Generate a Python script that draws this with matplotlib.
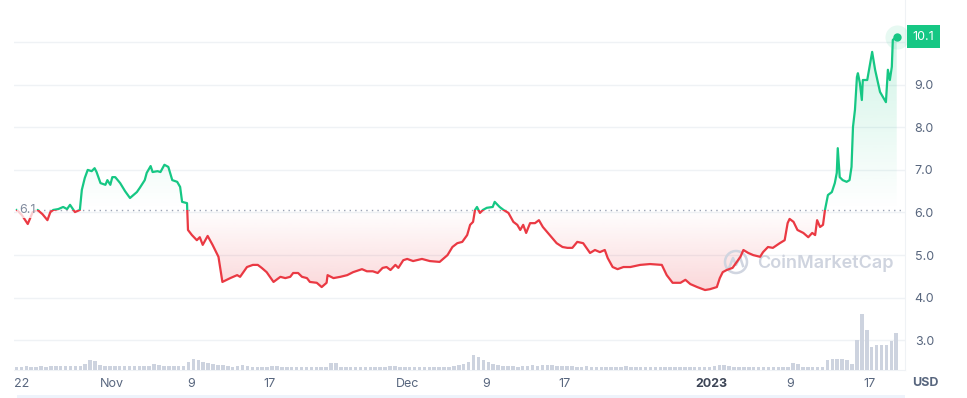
import numpy as np
import pandas as pd
import matplotlib
matplotlib.use('Agg')
import matplotlib.pyplot as plt
import matplotlib.dates as mdates
from matplotlib.patches import Rectangle, Ellipse
from matplotlib.path import Path
from matplotlib.colors import to_rgb

plt.rcParams['font.family'] = ['Inter', 'DejaVu Sans']

start = pd.Timestamp('2022-10-22')

# price samples: days after Oct 22 and price in USD
days = [0.3, 0.8, 1.4, 1.9, 2.4, 2.9, 3.4, 3.7, 4.0, 4.5,
        5.0, 5.4, 5.7, 6.2, 6.7, 6.9, 7.2, 7.5, 7.9, 8.2,
        8.4, 8.8, 9.3, 9.5, 9.8, 10.0, 10.3, 10.8, 11.3, 11.8,
        12.5, 12.8, 13.3, 13.5, 13.9, 14.1, 14.6, 14.9, 15.3, 15.7,
        16.1, 16.6, 16.9, 17.1, 17.6, 17.7, 18.1, 18.6, 18.9, 19.2,
        19.7, 20.2, 20.8, 21.2, 22.0, 22.7, 23.0, 23.7, 24.3, 24.8,
        25.2, 25.7, 26.4, 27.1, 27.6, 28.1, 28.4, 28.9, 29.3, 29.8,
        30.1, 30.8, 31.3, 31.8, 31.9, 32.5, 33.2, 33.9, 34.5, 35.4,
        35.9, 36.5, 37.0, 37.5, 37.9, 38.3, 38.8, 39.1, 39.6, 40.0,
        40.6, 41.5, 42.3, 43.3, 44.1, 44.6, 45.1, 45.6, 46.1, 46.4,
        46.7, 46.9, 47.1, 47.4, 47.7, 48.1, 48.7, 48.9, 49.4, 49.8,
        50.3, 50.8, 51.2, 51.5, 51.8, 52.1, 52.5, 53.0, 53.4, 53.8,
        54.5, 55.2, 55.8, 56.3, 56.8, 57.3, 57.9, 58.6, 59.1, 59.6,
        60.1, 60.4, 60.9, 61.4, 62.0, 62.7, 63.7, 64.7, 65.9, 66.4,
        67.0, 67.8, 68.3, 68.8, 69.5, 70.3, 70.8, 71.5, 71.8, 72.1,
        72.5, 73.1, 73.9, 74.2, 74.7, 75.2, 75.9, 76.2, 76.7, 77.2,
        77.9, 78.4, 78.7, 78.9, 79.3, 79.7, 80.3, 80.8, 81.2, 81.5,
        81.7, 82.0, 82.3, 82.5, 82.8, 83.2, 83.5, 83.7, 83.8, 84.0,
        84.3, 84.7, 85.0, 85.2, 85.35, 85.55, 85.75, 85.85, 86.05, 86.25,
        86.35, 86.8, 87.1, 87.3, 87.6, 87.9, 88.1, 88.4, 88.7, 88.9,
        89.1, 89.3, 89.4, 89.8]
price = [6.06, 5.94, 5.73, 6.01, 6.06, 5.96, 5.82, 6.01, 6.06, 6.08,
         6.13, 6.08, 6.18, 6.01, 6.06, 6.53, 6.81, 7.00, 6.97, 7.04,
         6.95, 6.69, 6.65, 6.76, 6.65, 6.83, 6.83, 6.69, 6.50, 6.34,
         6.48, 6.58, 6.76, 6.93, 7.09, 6.95, 6.97, 6.95, 7.12, 7.07,
         6.76, 6.72, 6.60, 6.25, 6.22, 5.59, 5.47, 5.35, 5.42, 5.24,
         5.45, 5.24, 4.96, 4.37, 4.46, 4.53, 4.49, 4.72, 4.77, 4.77,
         4.70, 4.60, 4.37, 4.49, 4.46, 4.49, 4.58, 4.58, 4.49, 4.46,
         4.37, 4.35, 4.25, 4.35, 4.53, 4.46, 4.49, 4.53, 4.60, 4.67,
         4.62, 4.62, 4.58, 4.70, 4.72, 4.65, 4.77, 4.70, 4.88, 4.91,
         4.86, 4.91, 4.86, 4.84, 5.00, 5.19, 5.28, 5.31, 5.47, 5.71,
         5.78, 6.06, 6.13, 5.99, 6.06, 6.11, 6.13, 6.25, 6.13, 6.06,
         5.99, 5.78, 5.71, 5.59, 5.71, 5.52, 5.75, 5.75, 5.82, 5.66,
         5.47, 5.28, 5.19, 5.17, 5.17, 5.31, 5.28, 5.05, 5.12, 5.07,
         5.12, 4.93, 4.72, 4.67, 4.72, 4.72, 4.77, 4.79, 4.77, 4.53,
         4.35, 4.35, 4.42, 4.32, 4.25, 4.18, 4.20, 4.25, 4.46, 4.60,
         4.65, 4.70, 4.96, 5.12, 5.05, 5.00, 4.96, 5.07, 5.19, 5.17,
         5.28, 5.35, 5.75, 5.85, 5.78, 5.59, 5.52, 5.42, 5.52, 5.47,
         5.82, 5.66, 5.71, 6.06, 6.41, 6.48, 6.69, 6.93, 7.51, 6.83,
         6.76, 6.72, 6.76, 7.07, 8.01, 8.41, 9.18, 9.27, 9.04, 8.64,
         9.11, 9.11, 9.51, 9.77, 9.35, 9.04, 8.83, 8.71, 8.59, 9.35,
         9.11, 9.42, 10.05, 10.13]

# volume, one bar per 12 hours from Oct 22 (arbitrary units)
vol = [35, 33, 36, 34, 35, 37, 34, 36, 38, 36, 37, 39, 40, 42,
       60, 105, 95, 55,
       42, 40, 38, 41, 40, 39, 42, 40, 41, 43,
       60, 52,
       40, 38, 41, 39, 44,
       80, 110, 105, 85,
       70, 62, 55, 50, 45,
       35, 38, 50, 42, 35, 33, 32, 34, 40, 36, 33, 32, 31, 30, 32, 31, 30, 32, 31, 33,
       75, 70,
       33, 32, 31, 30, 32, 31, 30, 32, 31, 33, 38, 40, 35, 32, 31, 30, 32, 31, 30, 31, 32, 33, 35,
       45, 55, 65, 80,
       150, 130,
       100, 80, 65, 55,
       42, 38, 36, 35, 37, 40, 48, 45, 50, 46, 48, 44, 40, 37, 36, 35, 34, 36, 35, 34, 33, 35,
       34, 33, 35, 36, 34, 33, 32, 34, 33, 32, 31, 33, 32, 31, 30, 32, 31, 30, 29, 30, 31,
       45, 50, 48, 42,
       30, 28, 29, 27, 28, 30, 29, 28, 27, 29, 28, 30,
       67, 60,
       35, 30, 28, 30, 32,
       100, 107, 110, 112, 105,
       65, 300, 560, 400, 230,
       250, 255, 250,
       290, 370]

tick_dates = ['2022-10-22', '2022-11-01', '2022-11-09', '2022-11-17', '2022-12-01',
              '2022-12-09', '2022-12-17', '2023-01-01', '2023-01-09', '2023-01-17']
tick_labels = ['22', 'Nov', '9', '17', 'Dec', '9', '17', '2023', '9', '17']
y_ticks = [3, 4, 5, 6, 7, 8, 9, 10]
y_labels = ['3.0', '4.0', '5.0', '6.0', '7.0', '8.0', '9.0', '']

green = '#16c784'
red = '#ea3943'
grey = '#58667e'
light = '#eff2f5'

x = mdates.date2num(start + pd.to_timedelta(days, unit='D'))
p = np.array(price)
base = p[0]
vx = mdates.date2num(start + pd.to_timedelta(np.arange(len(vol)) * 0.5 + 0.25, unit='D'))

W, H = 967, 398
fig = plt.figure(figsize=(W / 100, H / 100), dpi=100)
rect = [14 / W, 28 / H, 891 / W, 370 / H]
ax = fig.add_axes(rect)
axv = fig.add_axes(rect, facecolor='none')

x0 = mdates.date2num(start)
x1 = x0 + 891 / 9.83


def grad_fill(where, lo, hi, color, alphas):
    fb = ax.fill_between(x, p, base, where=where, interpolate=True,
                         facecolor='none', edgecolor='none')
    clip = Path.make_compound_path(*fb.get_paths())
    img = np.zeros((256, 1, 4))
    img[..., :3] = to_rgb(color)
    img[:, 0, 3] = np.linspace(alphas[0], alphas[1], 256)
    im = ax.imshow(img, extent=[x0, x1, lo, hi], origin='lower', aspect='auto',
                   interpolation='bilinear', zorder=1)
    im.set_clip_path(clip, ax.transData)


grad_fill(p >= base, base, p.max(), green, (0.0, 0.2))
grad_fill(p <= base, p.min(), base, red, (0.2, 0.0))

ln_g, = ax.plot(x, p, color=green, lw=1.6, zorder=3, solid_joinstyle='round')
ln_g.set_clip_path(Rectangle((x0, base), x1 - x0, 20, transform=ax.transData))
ln_r, = ax.plot(x, p, color=red, lw=1.6, zorder=3, solid_joinstyle='round')
ln_r.set_clip_path(Rectangle((x0, 0), x1 - x0, base, transform=ax.transData))

ax.hlines(base, x[4], x1, colors='#9aa3b5', linestyles=(0, (1, 3)), lw=1, zorder=2)
ax.text(x0 + 0.5, base, f'{base:.1f}', ha='left', va='center', fontsize=9,
        color='#808a9d', zorder=4,
        bbox=dict(boxstyle='square,pad=0.15', fc='white', ec='none', alpha=0.75))

ax.scatter(x[-1], p[-1], s=300, color=green, alpha=0.1, lw=0, zorder=4, clip_on=False)
ax.scatter(x[-1], p[-1], s=36, color=green, lw=0, zorder=5, clip_on=False)
ax.text(1.0203, p[-1], f'{p[-1]:.1f}', transform=ax.get_yaxis_transform(),
        ha='center', va='center', color='white', fontsize=9, zorder=6, clip_on=False,
        bbox=dict(boxstyle='square,pad=0.45', fc=green, ec='none'))

ax.set_xlim(x0, x1)
ax.set_ylim(2.303, 10.988)
ax.set_yticks(y_ticks)
ax.set_yticklabels(y_labels)
ax.yaxis.tick_right()
ax.grid(axis='y', color=light, lw=1)
ax.set_axisbelow(True)
ax.tick_params(axis='y', length=0, pad=7, labelsize=9, labelcolor=grey)
ax.set_xticks(mdates.date2num(pd.to_datetime(tick_dates)))
ax.set_xticklabels(tick_labels)
ax.tick_params(axis='x', length=0, pad=6, labelsize=9, labelcolor=grey)
xl = ax.get_xticklabels()
xl[0].set_ha('left')
xl[7].set_fontweight('bold')
xl[7].set_color('#3d4556')
for s in ['top', 'left']:
    ax.spines[s].set_visible(False)
for s in ['bottom', 'right']:
    ax.spines[s].set_color(light)

axv.bar(vx, vol, width=0.36, color='#cdd3df', lw=0)
axv.set_xlim(x0, x1)
axv.set_ylim(0, 3700)
axv.axis('off')

fx = lambda px: px / W
fy = lambda py: 1 - py / H
ax.add_patch(Ellipse((fx(736), fy(262)), 22 / W, 22 / H, transform=fig.transFigure,
                     fill=False, ec='#d0d5e0', lw=1.8, zorder=2))
ax.plot([fx(729), fx(733), fx(736), fx(740), fx(743)],
        [fy(268), fy(258), fy(265), fy(257), fy(266)],
        transform=fig.transFigure, color='#d0d5e0', lw=1.8, zorder=2)
ax.text(fx(757), fy(263), 'CoinMarketCap', transform=fig.transFigure, fontsize=13,
        fontweight='semibold', color='#cfd4df', ha='left', va='center', zorder=2)

fig.text(fx(925), fy(383), 'USD', ha='center', va='center', fontsize=9,
         fontweight='bold', color=grey)
fig.add_artist(Rectangle((fx(17), 0), (905 - 17) / W, 3 / H, transform=fig.transFigure,
                         color='#eef3fb', lw=0))

fig.savefig('out.png', dpi=100)
